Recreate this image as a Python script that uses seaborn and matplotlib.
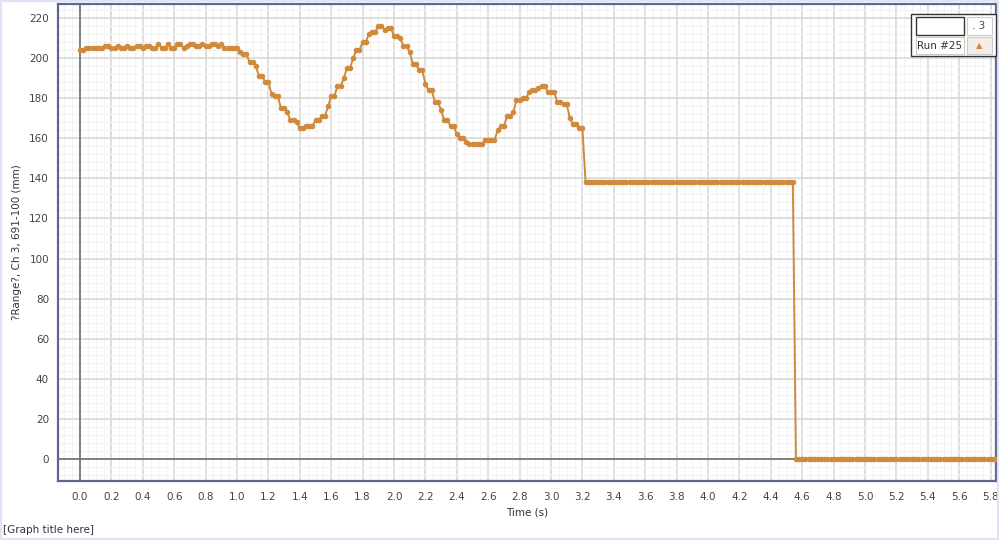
"""
Distance vs time trace from a motion detector run.
"""

import matplotlib.pyplot as plt
import matplotlib.patches as mpatches
from matplotlib.ticker import MultipleLocator
import seaborn as sns
import numpy as np
import pandas as pd

SAMPLE_DT = 0.02  # s between readings

# readings, 0.00 s .. 0.90 s
dist_start = [204, 204, 205, 205, 205, 205, 205, 205, 206, 206, 205, 205, 206, 205, 205, 206,
              205, 205, 206, 206, 205, 206, 206, 205, 205, 207, 205, 205, 207, 205, 205, 207,
              207, 205, 206, 207, 207, 206, 206, 207, 206, 206, 207, 207, 206, 207]
# 0.92 s .. 3.20 s
dist_swing = [205, 205, 205, 205, 205, 203, 202, 202, 198, 198, 196, 191, 191, 188, 188, 182,
              181, 181, 175, 175, 173, 169, 169, 168, 165, 165, 166, 166, 166, 169, 169, 171,
              171, 176, 181, 181, 186, 186, 190, 195, 195, 200, 204, 204, 208, 208, 212, 213,
              213, 216, 216, 214, 215, 215, 211, 211, 210, 206, 206, 203, 197, 197, 194, 194,
              187, 184, 184, 178, 178, 174, 169, 169, 166, 166, 162, 160, 160, 158, 157, 157,
              157, 157, 157, 159, 159, 159, 159, 164, 166, 166, 171, 171, 173, 179, 179, 180,
              180, 183, 184, 184, 185, 186, 186, 183, 183, 183, 178, 178, 177, 177, 170, 167,
              167, 165, 165]
# 3.22 s .. 4.54 s held at 138, then 4.56 s .. 5.84 s at 0
dist_hold = [138] * 67
dist_lost = [0] * 65

distance = dist_start + dist_swing + dist_hold + dist_lost
time = np.round(np.arange(len(distance)) * SAMPLE_DT, 2)

x_ticks = np.round(np.arange(0, 5.81, 0.2), 1)
y_ticks = list(range(0, 221, 20))

LINE_COLOR = '#cf8a3e'
FRAME_COLOR = '#5e6790'


def plot_run():
    sns.set_style("white")
    plt.rcParams['font.family'] = ['DejaVu Sans']

    fig = plt.figure(figsize=(9.99, 5.4), dpi=100)
    ax = fig.add_axes([58 / 999, 1 - 481 / 540, 938 / 999, 477 / 540])

    df = pd.DataFrame({'time': time, 'distance': distance})

    # grid
    ax.xaxis.set_major_locator(MultipleLocator(0.2))
    ax.xaxis.set_minor_locator(MultipleLocator(0.05))
    ax.yaxis.set_major_locator(MultipleLocator(20))
    ax.yaxis.set_minor_locator(MultipleLocator(4))
    ax.grid(True, which='major', color='#d6d6d6', lw=1.1)
    ax.grid(True, which='minor', color='#f2f2f2', lw=0.8)
    ax.set_axisbelow(True)
    ax.axhline(0, color='#707070', lw=1.2, zorder=1)
    ax.axvline(0, color='#707070', lw=1.2, zorder=1)

    sns.lineplot(data=df, x='time', y='distance', ax=ax, color=LINE_COLOR,
                 linewidth=1.4, marker='o', markersize=4.0, markeredgewidth=0,
                 zorder=3)

    ax.set_xlim(-0.14, 5.834)
    ax.set_ylim(-11, 227)
    ax.set_xticks(x_ticks)
    ax.set_xticklabels([f'{t:.1f}' for t in x_ticks])
    ax.set_yticks(y_ticks)
    ax.tick_params(axis='both', which='major', labelsize=7.5, labelcolor='#444444',
                   length=3, color='#888888', direction='out')
    ax.tick_params(axis='both', which='minor', length=0)
    ax.tick_params(axis='x', pad=5)

    for side in ax.spines.values():
        side.set_color(FRAME_COLOR)
        side.set_linewidth(1.6)

    ax.set_xlabel('Time (s)', fontsize=7.5, color='#333333', labelpad=4)
    ax.set_ylabel('?Range?, Ch 3, 691-100 (mm)', fontsize=7.5, color='#333333', labelpad=5)

    fig.text(3 / 999, 1 - 530 / 540, '[Graph title here]', fontsize=7.5,
             color='#333333', va='center', ha='left')

    # outer window border
    fig.patches.append(mpatches.Rectangle((0, 0), 1, 1, transform=fig.transFigure,
                                          fill=False, edgecolor='#dfe3f5', lw=3))

    # run control box (top right)
    def box(x0, y0, x1, y1, fc, ec, lw=1.0):
        fig.patches.append(mpatches.Rectangle(
            (x0 / 999, 1 - y1 / 540), (x1 - x0) / 999, (y1 - y0) / 540,
            transform=fig.transFigure, facecolor=fc, edgecolor=ec, lw=lw, zorder=10))

    box(911, 14, 996, 56, 'white', '#333333', 1.0)
    box(916, 17, 964, 35, 'white', '#333333', 1.0)
    box(967, 17, 992, 35, 'white', '#cccccc', 0.8)
    box(916, 37, 964, 54, 'white', '#cccccc', 0.8)
    box(967, 37, 992, 54, '#f5eee8', '#cccccc', 0.8)
    fig.text(979 / 999, 1 - 26 / 540, '. 3', fontsize=7.5, color='#444444',
             ha='center', va='center', zorder=11)
    fig.text(940 / 999, 1 - 46 / 540, 'Run #25', fontsize=7.5, color='#333333',
             ha='center', va='center', zorder=11)
    fig.text(979 / 999, 1 - 46 / 540, '\u25B2', fontsize=6, color=LINE_COLOR,
             ha='center', va='center', zorder=11)

    plt.savefig('out.png', dpi=100)


if __name__ == "__main__":
    plot_run()
